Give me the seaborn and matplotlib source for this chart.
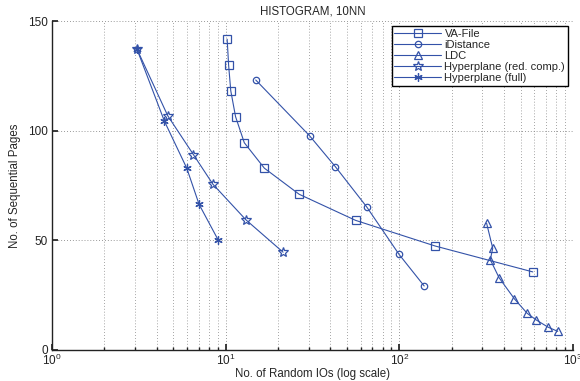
import matplotlib
matplotlib.use("Agg")
import matplotlib.pyplot as plt
import seaborn as sns
import numpy as np
import pandas as pd
from matplotlib.ticker import LogLocator, NullFormatter

sns.set_theme(style="white")
plt.rcParams['font.family'] = ['Liberation Sans', 'DejaVu Sans']

title = "HISTOGRAM, 10NN"
xlabel = "No. of Random IOs (log scale)"
ylabel = "No. of Sequential Pages"

va_x = [10.2, 10.4, 10.7, 11.4, 12.8, 16.7, 26.5, 56.0, 161, 587]
va_y = [141.7, 129.8, 118.2, 106.4, 94.5, 82.9, 71.0, 59.1, 47.4, 35.6]

idist_x = [14.9, 30.4, 42.8, 64.8, 99.6, 139]
idist_y = [123.1, 97.7, 83.6, 65.3, 43.6, 29.2]

ldc_x = [318, 345, 334, 375, 460, 545, 614, 719, 817]
ldc_y = [57.8, 46.4, 41.2, 33.0, 23.3, 16.7, 13.7, 10.4, 8.5]

hred_x = [3.08, 4.64, 6.52, 8.44, 13.1, 21.4]
hred_y = [137.3, 106.8, 89.1, 75.6, 59.3, 44.6]

hfull_x = [3.08, 4.44, 5.97, 7.03, 9.05]
hfull_y = [137.3, 104.3, 82.9, 66.4, 50.2]

series = [
    ("VA-File", va_x, va_y, 's', 5.2),
    ("iDistance", idist_x, idist_y, 'o', 4.6),
    ("LDC", ldc_x, ldc_y, '^', 5.6),
    ("Hyperplane (red. comp.)", hred_x, hred_y, '*', 7),
    ("Hyperplane (full)", hfull_x, hfull_y, (6, 2, 0), 6),
]

color = "#3352a8"

fig = plt.figure(figsize=(5.8, 3.81), dpi=100)
ax = fig.add_axes([52/580, 31/381, 521/580, 329/381])

for name, xs, ys, mk, ms in series:
    df = pd.DataFrame({"x": xs, "y": ys})
    sns.lineplot(data=df, x="x", y="y", ax=ax, sort=False, estimator=None,
                 color=color, marker=mk, markersize=ms, markerfacecolor='none',
                 markeredgecolor=color, markeredgewidth=0.9, linewidth=0.8,
                 label=name)

ax.set_xscale('log')
ax.set_xlim(1, 1000)
ax.set_ylim(0, 150)
ax.set_yticks([0, 50, 100, 150])
ax.xaxis.set_major_locator(LogLocator(base=10, numticks=10))
ax.xaxis.set_minor_locator(LogLocator(base=10, subs=np.arange(2, 10), numticks=20))
ax.xaxis.set_minor_formatter(NullFormatter())

ax.grid(True, which='major', linestyle=(0, (1, 2.5)), color='#777777', linewidth=0.6)
ax.grid(True, which='minor', axis='x', linestyle=(0, (1, 2.5)), color='#888888', linewidth=0.6)

for s in ['top', 'right']:
    ax.spines[s].set_visible(False)
for s in ['left', 'bottom']:
    ax.spines[s].set_color('#222222')
    ax.spines[s].set_linewidth(1.0)

ax.tick_params(axis='both', which='both', direction='in', labelsize=8.5, colors='#222222',
               bottom=True, left=True)
ax.tick_params(axis='both', which='major', length=4)
ax.tick_params(axis='x', which='minor', length=2)
ax.tick_params(axis='x', pad=2)
ax.tick_params(axis='y', pad=3)

ax.set_title(title, fontsize=8.3, pad=5)
ax.set_xlabel(xlabel, fontsize=8.3, labelpad=0)
ax.set_ylabel(ylabel, fontsize=8.3, labelpad=5)

leg = ax.legend(loc='upper right', fontsize=8, frameon=True, fancybox=False,
                edgecolor='black', framealpha=1, handlelength=4.2,
                borderpad=0.25, labelspacing=0.1, handletextpad=0.3,
                borderaxespad=0.45)
leg.get_frame().set_linewidth(1.0)

fig.savefig("out.png", dpi=100)
